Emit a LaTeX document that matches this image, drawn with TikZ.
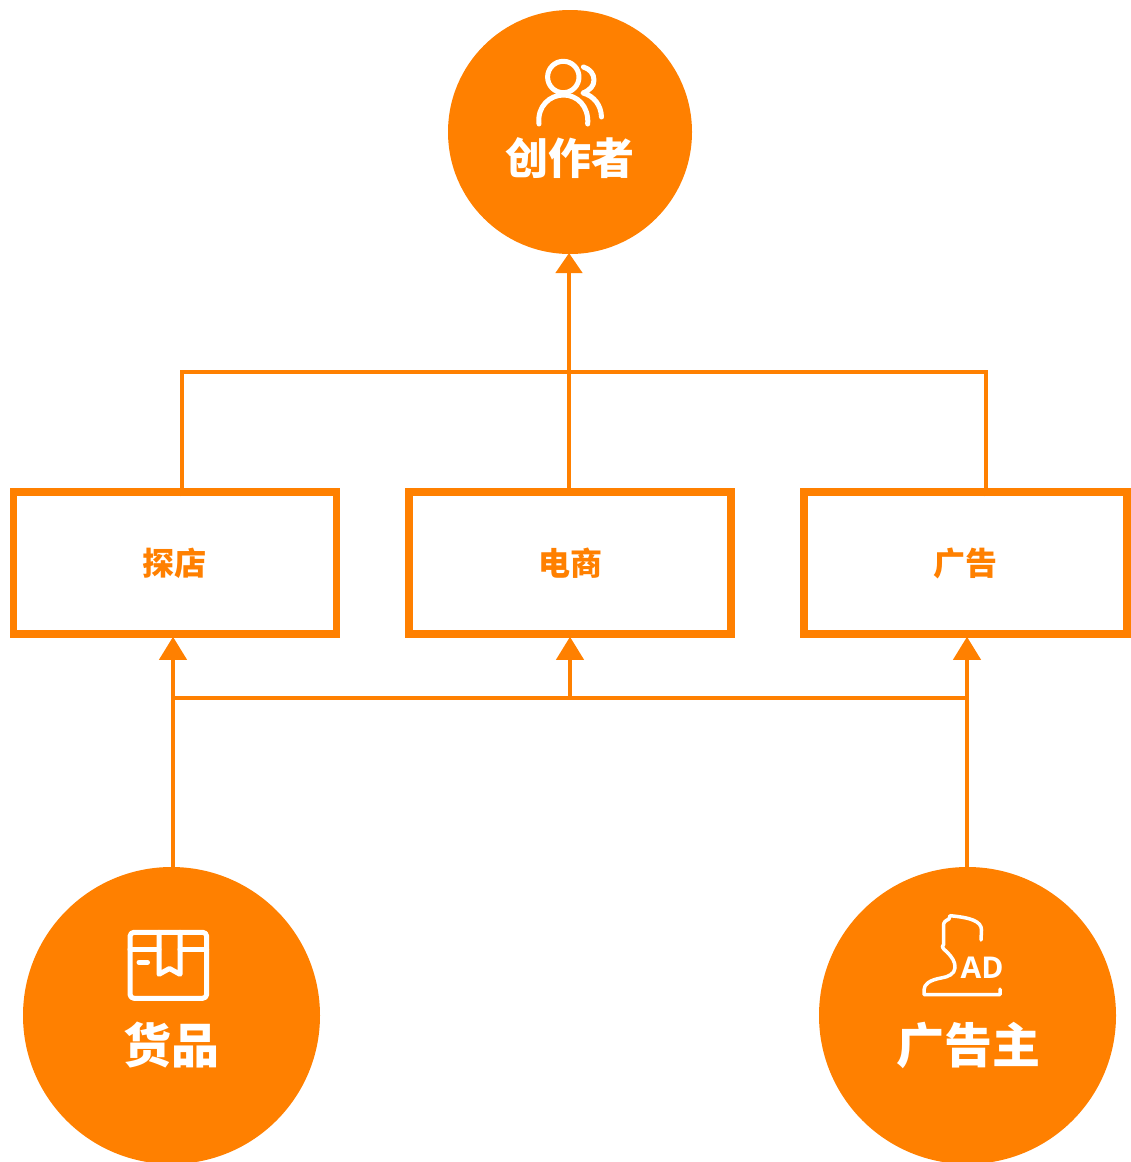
\documentclass[tikz,border=0pt]{standalone}
\usepackage{fontspec}
\setmainfont{Open Sans}
\newfontfamily\cjkbold{Noto Sans CJK SC Black}
\usetikzlibrary{arrows.meta}
\definecolor{brand}{HTML}{FF8000}
\tikzset{
  hub/.style={circle,fill=brand,inner sep=0pt,outer sep=0pt},
  panel/.style={draw=brand,line width=7.5pt,fill=white,minimum width=322pt,minimum height=142pt,inner sep=0pt},
  conn/.style={draw=brand,line width=4pt},
  arrowconn/.style={conn,shorten >=-1pt,-{Triangle[length=23pt,width=27pt,color=brand]}},
  toparrow/.style={conn,line width=4.5pt,shorten >=-1pt,-{Triangle[length=20pt,width=26pt,color=brand]}},
  hubtext/.style={text=white,inner sep=0pt,font=\cjkbold},
  paneltext/.style={text=brand,inner sep=0pt,font=\cjkbold\fontsize{32}{36}\selectfont},
  icon/.style={draw=white,line cap=round,line join=round},
}
\begin{document}
\begin{tikzpicture}[x=1pt,y=-1pt]
\useasboundingbox (0,0) rectangle (1131,1162);
\fill[white] (0,0) rectangle (1131,1162);
\begin{scope}
\clip (0,0) rectangle (1131,1162);
\node[hub,minimum size=244pt] (creator) at (570,132) {};
\node[hub,minimum size=297pt] (goods) at (171.5,1015.5) {};
\node[hub,minimum size=297pt] (advertiser) at (967.5,1015.5) {};
\end{scope}
\node[panel,minimum width=323pt] (shop) at (175,563) {};
\node[panel] (ecom) at (570,563) {};
\node[panel,minimum width=323pt] (ads) at (965.5,563) {};
\node[paneltext] (shoptext) at (174.5,563) {探店};
\node[paneltext] (ecomtext) at (570,563) {电商};
\node[paneltext] (adstext) at (965.5,563) {广告};
\node[hubtext,font=\cjkbold\fontsize{43}{48}\selectfont] (creatortext) at (570,158) {创作者};
\node[hubtext,font=\cjkbold\fontsize{48}{52}\selectfont] (goodstext) at (171.5,1045) {货品};
\node[hubtext,font=\cjkbold\fontsize{48}{52}\selectfont] (advertisertext) at (968,1045) {广告主};
% upper connectors
\coordinate (upperjoin) at (569,372);
\draw[conn] ([xshift=7pt,yshift=-8pt]shop.north) |- (upperjoin);
\draw[conn] ([xshift=20.5pt,yshift=-8pt]ads.north) |- (upperjoin);
\draw[conn] (ecom.north -| upperjoin) -- (upperjoin);
\draw[toparrow] (upperjoin) -- (creator.south -| upperjoin);
% lower connectors
\coordinate (lowerjoin) at (570,698);
\draw[conn] (173,698) -- (967,698);
\draw[arrowconn] (lowerjoin) -- (ecom.south);
\draw[arrowconn] (goods.north -| 173,0) -- (shop.south -| 173,0);
\draw[arrowconn] (advertiser.north -| 967,0) -- (ads.south -| 967,0);
% creator icon
\draw[icon,line width=5pt] (563.3,77) circle (15.7pt);
\draw[icon,line width=5pt] (539,124) .. controls (537,106) and (550,95) .. (563.5,95) .. controls (577,95) and (589,106) .. (587.7,124);
\draw[icon,line width=5pt] (583.5,67) .. controls (590,69) and (594,74) .. (594,80) .. controls (594,86) and (590,90) .. (583,93) .. controls (594,96) and (601,105) .. (601.5,117);
% goods icon
\draw[icon,line width=5pt] (134,932.3) -- (202.7,932.3) arc (-90:0:4) -- (206.7,994.3) arc (0:90:4) -- (134,998.3) arc (90:180:4) -- (130,936.3) arc (180:270:4) -- cycle;
\draw[icon,line width=5pt] (130,949.3) -- (159,949.3) (180,949.3) -- (206.7,949.3);
\draw[icon,line width=5pt] (159,932.3) -- (159,974.3) -- (169.5,968.5) -- (180,974.3) -- (180,932.3);
\draw[icon,line width=5pt] (139,962.3) -- (147.5,962.3);
% advertiser icon
\draw[icon,line width=3.5pt] (981,940) -- (981.5,930) .. controls (981.5,921) and (970,917.5) .. (950,915.7) -- (949,919) .. controls (945,921) and (943.5,922) .. (943.5,926) -- (943.5,945) .. controls (941,946) and (943,949) .. (946.7,951.7) .. controls (952,957) and (955.5,962) .. (955,968) .. controls (954.5,974) and (948,977) .. (941,978) .. controls (930,980) and (924,984) .. (924,990) -- (924,994.5) -- (1000,994.5) -- (1000,989);
\node[text=white,inner sep=0pt,font=\fontsize{30}{32}\selectfont\bfseries] (adlabel) at (982,967.5) {AD};
\end{tikzpicture}
\end{document}
